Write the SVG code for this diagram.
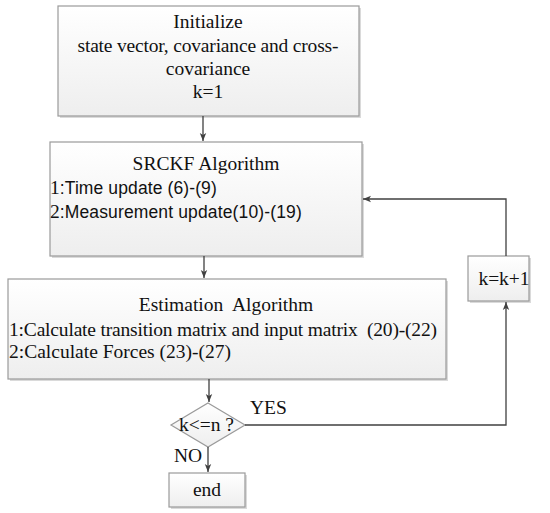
<svg xmlns="http://www.w3.org/2000/svg" width="550" height="513" viewBox="0 0 550 513">
<defs>
<linearGradient id="g" x1="0" y1="0" x2="0" y2="1">
<stop offset="0" stop-color="#ffffff"/>
<stop offset="1" stop-color="#eeeeee"/>
</linearGradient>
<marker id="ah" markerWidth="8" markerHeight="8" viewBox="0 0 10 10" refX="10" refY="5" orient="auto" markerUnits="userSpaceOnUse">
<path d="M0,1 L10,5 L0,9 L2.5,5 Z" fill="#404040"/>
</marker>
</defs>
<style>
.box{fill:url(#g);stroke:#9a9a9a;stroke-width:1.2}
.sh{fill:#dadada}
.t{font-family:"Liberation Serif","Times New Roman",serif;font-size:19.5px;fill:#111}
.s{font-family:"Liberation Sans",Arial,sans-serif;font-size:17.5px;fill:#111}
.c{text-anchor:middle}
.ln{fill:none;stroke:#404040;stroke-width:1.3;marker-end:url(#ah)}
</style>
<rect width="550" height="513" fill="#ffffff"/>
<g id="init">
<rect class="sh" x="60" y="8" width="301" height="110"/>
<rect class="box" x="58" y="6" width="301" height="110"/>
<text class="t c" x="208" y="28">Initialize</text>
<text class="t c" x="208" y="52" textLength="261">state vector, covariance and cross-</text>
<text class="t c" x="208" y="75">covariance</text>
<text class="t c" x="208" y="98">k=1</text>
</g>
<g id="srckf">
<rect class="sh" x="52" y="144" width="312" height="114"/>
<rect class="box" x="50" y="142" width="312" height="114"/>
<text class="t c" x="206" y="170">SRCKF Algorithm</text>
<text x="50" y="194"><tspan class="t">1</tspan><tspan class="s" textLength="157">:Time update (6)-(9)</tspan></text>
<text x="50" y="218"><tspan class="t">2</tspan><tspan class="s" textLength="242">:Measurement update(10)-(19)</tspan></text>
</g>
<g id="estimation">
<rect class="sh" x="10" y="281" width="438" height="100"/>
<rect class="box" x="8" y="279" width="438" height="100"/>
<text class="t c" x="226" y="311" xml:space="preserve">Estimation  Algorithm</text>
<text class="t" x="9" y="336" xml:space="preserve" textLength="428">1:Calculate transition matrix and input matrix  (20)-(22)</text>
<text class="t" x="9" y="358">2:Calculate Forces (23)-(27)</text>
</g>
<g id="decision">
<polygon points="208,403 245,425 208,447 171,425" fill="url(#g)" stroke="#9a9a9a" stroke-width="1.2"/>
<text class="t" x="179" y="431">k&lt;=n ?</text>
</g>
<g id="end">
<rect class="sh" x="171" y="475" width="76" height="34"/>
<rect class="box" x="169" y="473" width="76" height="34"/>
<text class="t c" x="207" y="496">end</text>
</g>
<g id="inc">
<rect class="sh" x="470" y="258" width="61" height="45"/>
<rect class="box" x="468" y="256" width="61" height="45"/>
<text class="t c" x="504" y="285">k=k+1</text>
</g>
<g id="connectors">
<line class="ln" x1="203" y1="116" x2="203" y2="141"/>
<line class="ln" x1="204" y1="256" x2="204" y2="278"/>
<line class="ln" x1="209" y1="379" x2="209" y2="402"/>
<line class="ln" x1="208" y1="447" x2="208" y2="472"/>
<polyline class="ln" points="245,425 506,425 506,302"/>
<polyline class="ln" points="506,256 506,199 363,199"/>
<text class="t" x="250" y="414">YES</text>
<text class="t" x="174" y="462">NO</text>
</g>
</svg>
